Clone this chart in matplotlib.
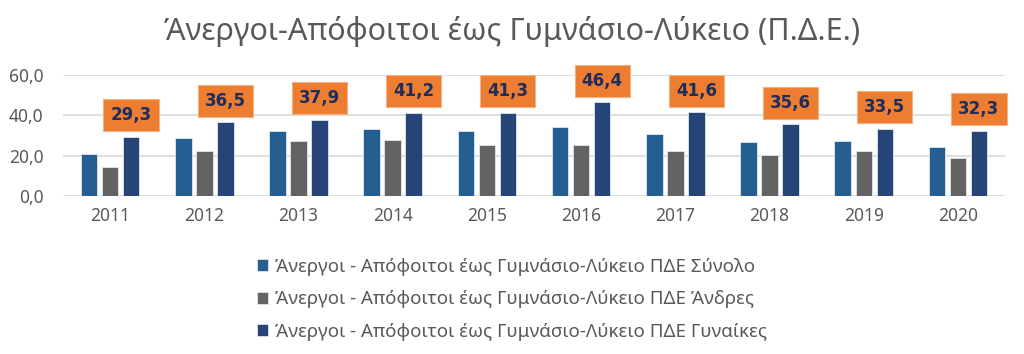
import numpy as np
import matplotlib.pyplot as plt

plt.rcParams['font.family'] = ['Noto Sans', 'DejaVu Sans']

years = ['2011', '2012', '2013', '2014', '2015', '2016', '2017', '2018', '2019', '2020']
total = [20.7, 28.6, 32.1, 33.4, 32.2, 34.5, 30.7, 26.6, 27.1, 24.3]
men = [14.2, 22.2, 27.1, 27.6, 25.4, 25.3, 22.5, 20.2, 22.5, 18.8]
women = [29.3, 36.5, 37.9, 41.2, 41.3, 46.4, 41.6, 35.6, 33.5, 32.3]

series_names = ['Άνεργοι - Απόφοιτοι έως Γυμνάσιο-Λύκειο ΠΔΕ Σύνολο',
                'Άνεργοι - Απόφοιτοι έως Γυμνάσιο-Λύκειο ΠΔΕ Άνδρες',
                'Άνεργοι - Απόφοιτοι έως Γυμνάσιο-Λύκειο ΠΔΕ Γυναίκες']
colors = ['#255E91', '#636363', '#264478']

fig = plt.figure(figsize=(10.24, 3.54), dpi=100)
ax = fig.add_axes([0.0615, 0.446, 0.92, 0.342])

x = np.arange(len(years))
w = 0.175
step = 0.223
bars = []
for i, (vals, c, name) in enumerate(zip([total, men, women], colors, series_names)):
    b = ax.bar(x + (i - 1) * step, vals, w, color=c, edgecolor='#DDE6F0', linewidth=0.6, label=name, zorder=3)
    bars.append(b)

# orange value boxes above the women's bars
for xi, v in zip(x, women):
    ax.annotate(f'{v:.1f}'.replace('.', ','), (xi + step, v), xytext=(0, 9), textcoords='offset points',
                ha='center', va='bottom', fontsize=12, fontweight='bold', family='DejaVu Sans',
                color='#1F2D5A',
                bbox=dict(boxstyle='square,pad=0.42', fc='#ED7D31', ec='#F4B183', lw=0.8), zorder=4)

ax.set_xlim(-0.5, len(years) - 0.5)
ax.set_ylim(0, 60)
ax.set_yticks([0, 20, 40, 60])
ax.set_yticklabels(['0,0', '20,0', '40,0', '60,0'])
ax.set_xticks(x)
ax.set_xticklabels(years)
ax.tick_params(axis='both', length=0, labelsize=12.5, labelcolor='#595959')
ax.tick_params(axis='x', pad=8)
ax.tick_params(axis='y', pad=14)
ax.grid(axis='y', color='#D9D9D9', linewidth=1.2, zorder=0)
for s in ax.spines.values():
    s.set_visible(False)

fig.suptitle('Άνεργοι-Απόφοιτοι έως Γυμνάσιο-Λύκειο (Π.Δ.Ε.)', x=0.5, y=0.955, fontsize=22, color='#595959')

fig.legend(handles=bars, labels=series_names, loc='upper center', bbox_to_anchor=(0.5, 0.32),
           ncol=1, frameon=False, fontsize=13.5, labelcolor='#595959', handlelength=0.6, handleheight=0.6,
           handletextpad=0.4, labelspacing=0.78)

fig.savefig('out.png', dpi=100)
